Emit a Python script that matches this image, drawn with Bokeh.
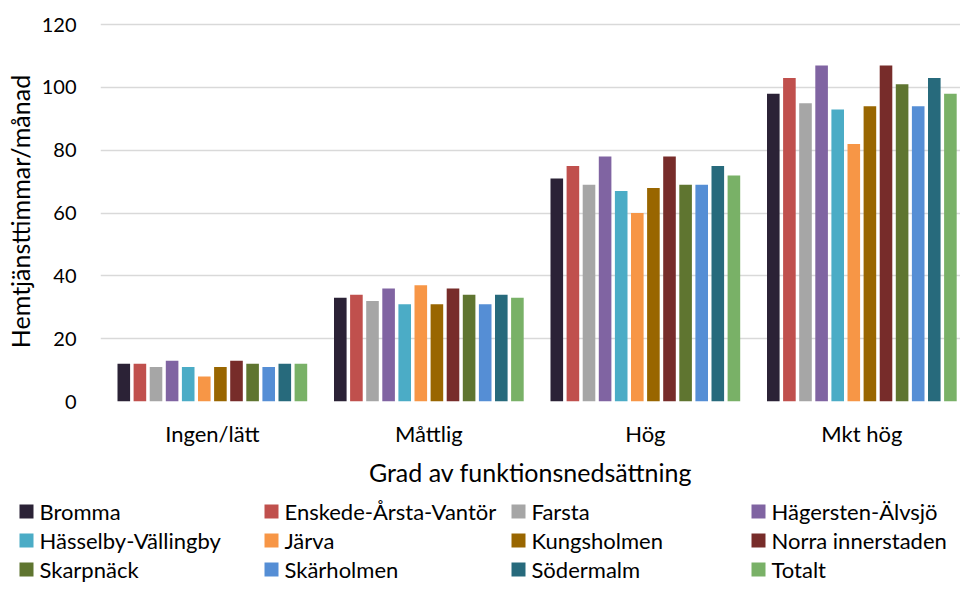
from bokeh.plotting import figure
from bokeh.layouts import column
from bokeh.models import ColumnDataSource, Range1d, FixedTicker
from bokeh.core.properties import value
from bokeh.transform import dodge
from bokeh.embed import file_html
from bokeh.resources import INLINE

categories = ["Ingen/lätt", "Måttlig", "Hög", "Mkt hög"]
series = ["Bromma", "Enskede-Årsta-Vantör", "Farsta", "Hägersten-Älvsjö",
          "Hässelby-Vällingby", "Järva", "Kungsholmen", "Norra innerstaden",
          "Skarpnäck", "Skärholmen", "Södermalm", "Totalt"]
colors = ["#2B2236", "#C0504D", "#A6A6A6", "#8064A2", "#4BACC6", "#F79646",
          "#996600", "#772C2A", "#5F7530", "#558ED5", "#276A7C", "#79B167"]

bromma = [12, 33, 71, 98]
enskede = [12, 34, 75, 103]
farsta = [11, 32, 69, 95]
hagersten = [13, 36, 78, 107]
hasselby = [11, 31, 67, 93]
jarva = [8, 37, 60, 82]
kungsholmen = [11, 31, 68, 94]
norra = [13, 36, 78, 107]
skarpnack = [12, 34, 69, 101]
skarholmen = [11, 31, 69, 94]
sodermalm = [12, 34, 75, 103]
totalt = [12, 33, 72, 98]
values = [bromma, enskede, farsta, hagersten, hasselby, jarva, kungsholmen,
          norra, skarpnack, skarholmen, sodermalm, totalt]
y_ticks = [0, 20, 40, 60, 80, 100, 120]

FONT = "Lato"
W = 960
H_MAIN, H_LEG = 495, 90
left, top = 100, 21
frame_bottom = 401
cat_px = 216.5
shift_px = 3.6
bar_pitch_px = 16.1
bar_w_px = 12.6
frame_w = W - left

data = {"xc": [i + 0.5 for i in range(len(categories))]}
for i, v in enumerate(values):
    data["s%d" % i] = v
source = ColumnDataSource(data)

p = figure(width=W, height=H_MAIN, output_backend="svg", toolbar_location=None,
           x_range=Range1d(-shift_px / cat_px, (frame_w - shift_px) / cat_px),
           y_range=Range1d(0, 121),
           min_border_left=left, min_border_right=0, min_border_top=top,
           min_border_bottom=H_MAIN - frame_bottom)
p.outline_line_color = None
p.frame_align = False

pitch = bar_pitch_px / cat_px
bw = bar_w_px / cat_px
for i, name in enumerate(series):
    off = (i - (len(series) - 1) / 2) * pitch
    p.vbar(x=dodge("xc", off), top="s%d" % i, width=bw, source=source,
           fill_color=colors[i], line_color=None)

p.xaxis.ticker = FixedTicker(ticks=data["xc"])
p.xaxis.major_label_overrides = {x: c for x, c in zip(data["xc"], categories)}
p.yaxis.ticker = FixedTicker(ticks=y_ticks)
p.xgrid.grid_line_color = None
p.ygrid.ticker = FixedTicker(ticks=y_ticks)
p.ygrid.grid_line_color = "#D9D9D9"
p.ygrid.grid_line_width = 1.5

for ax in (p.xaxis[0], p.yaxis[0]):
    ax.axis_line_color = None
    ax.major_tick_line_color = None
    ax.minor_tick_line_color = None
    ax.major_label_text_font = FONT
    ax.major_label_text_color = "black"
    ax.axis_label_text_font = FONT
    ax.axis_label_text_font_size = "25px"
    ax.axis_label_text_font_style = "normal"
    ax.axis_label_text_color = "black"

p.xaxis.major_label_text_font_size = "22px"
p.yaxis.major_label_text_font_size = "20px"
p.xaxis.axis_label = "Grad av funktionsnedsättning"
p.yaxis.axis_label = "Hemtjänsttimmar/månad"
p.xaxis.major_label_standoff = 12
p.xaxis.axis_label_standoff = 7
p.yaxis.major_label_standoff = 18
p.yaxis.axis_label_standoff = 4

# legend panel (drawn with glyphs, pixel-like coordinates)
lg = figure(width=W, height=H_LEG, output_backend="svg", toolbar_location=None,
            x_range=Range1d(0, W), y_range=Range1d(H_LEG, 0),
            x_axis_type=None, y_axis_type=None, min_border=0,
            min_border_left=0, min_border_right=0, min_border_top=0,
            min_border_bottom=0)
lg.outline_line_color = None
lg.frame_align = False
lg.xgrid.visible = False
lg.ygrid.visible = False

leg_cols = [19, 264, 511, 751]
leg_rows = [16, 45, 74]
lx, ly = [], []
for i in range(len(series)):
    lx.append(leg_cols[i % 4])
    ly.append(leg_rows[i // 4])
leg_src = ColumnDataSource(dict(x=[v + 7 for v in lx], tx=[v + 20 for v in lx],
                                y=ly, name=series, color=colors))
lg.scatter(x="x", y="y", marker="square", size=14, fill_color="color",
           line_color=None, source=leg_src)
lg.text(x="tx", y="y", text="name", source=leg_src, text_font=value(FONT),
        text_font_size="22px", text_color="black", text_baseline="middle",
        text_align="left")

layout = column(p, lg, spacing=0)
open("out.html", "w").write(file_html(layout, INLINE))
